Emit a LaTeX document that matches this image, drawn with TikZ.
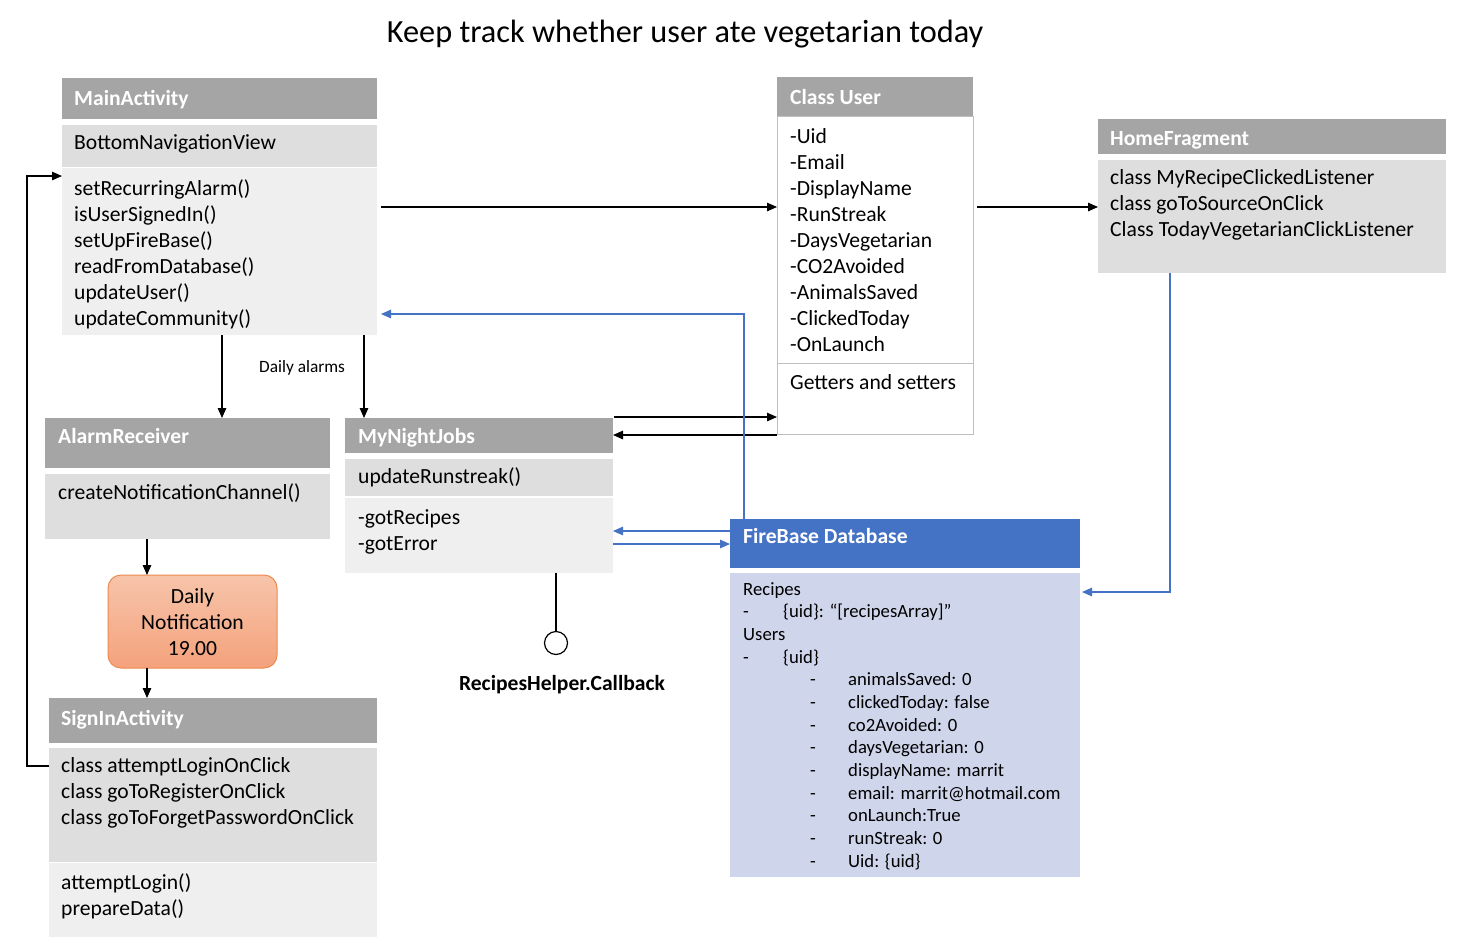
\documentclass[tikz,border=0pt]{standalone}
\usepackage{fontspec}
\setmainfont{Carlito}
\usetikzlibrary{arrows.meta,calc}
\definecolor{hdr}{HTML}{A5A5A5}
\definecolor{lgA}{HTML}{DEDEDE}
\definecolor{lgB}{HTML}{EFEFEF}
\definecolor{ublue}{HTML}{4472C4}
\definecolor{lav}{HTML}{CFD5EA}
\definecolor{ubord}{HTML}{BFBFBF}
\definecolor{ntop}{HTML}{F7C4AA}
\definecolor{nbot}{HTML}{F4A27C}
\definecolor{nbord}{HTML}{EE8A50}
\begin{document}
\begin{tikzpicture}[x=1pt,y=-1pt,
  blk/.style={anchor=north west, inner sep=0pt, outer sep=0pt, draw=none, rectangle},
  txt/.style={anchor=base west, inner sep=0pt, font=\fontsize{21.6}{26}\selectfont},
  htxt/.style={anchor=base west, inner sep=0pt, text=white, font=\fontsize{21.6}{26}\selectfont\bfseries},
  dbtxt/.style={anchor=base west, inner sep=0pt, font=\fontsize{18.7}{22.7}\selectfont},
  conn/.style={line width=1.2pt, -{Triangle[length=10pt,width=8.5pt]}},
  bconn/.style={line width=1.1pt, color=ublue, -{Triangle[length=10pt,width=8.5pt]}},
  bline/.style={line width=1.1pt, color=ublue}
]
\useasboundingbox (0,0) rectangle (1461,943);
\fill[white] (0,0) rectangle (1461,943);

% title
\node[anchor=base, inner sep=0pt, font=\fontsize{32.3}{38}\selectfont] (title) at (685,42) {Keep track whether user ate vegetarian today};

% MainActivity
\node[blk, fill=hdr, minimum width=315pt, minimum height=41pt] (mah) at (62,78) {};
\node[blk, fill=lgA, minimum width=315pt, minimum height=42pt] (mab) at (62,125) {};
\node[blk, fill=lgB, minimum width=315pt, minimum height=167pt] (ma3) at (62,168) {};
\node[htxt] (mah-t) at (74,105) {MainActivity};
\node[txt] (mab-t) at (74,149) {BottomNavigationView};
\foreach \t [count=\i] in {setRecurringAlarm(), isUserSignedIn(), setUpFireBase(), readFromDatabase(), updateUser(), updateCommunity()}
  \node[txt] (ma3-t\i) at (74,{195+26*(\i-1)}) {\t};

% Class User
\node[blk, fill=hdr, minimum width=196pt, minimum height=39pt] (uh) at (777,77) {};
\node[blk, fill=white, draw=ubord, line width=1pt, minimum width=196pt, minimum height=247pt] (ub1) at (777,116) {};
\node[blk, fill=white, draw=ubord, line width=1pt, minimum width=196pt, minimum height=71pt] (ub2) at (777,363) {};
\node[htxt] (uh-t) at (790,104) {Class User};
\foreach \t [count=\i] in {-Uid, -Email, -DisplayName, -RunStreak, -DaysVegetarian, -CO2Avoided, -AnimalsSaved, -ClickedToday, -OnLaunch}
  \node[txt] (ub1-t\i) at (790,{143+26*(\i-1)}) {\t};
\node[txt] (ub2-t) at (790,389) {Getters and setters};

% HomeFragment
\node[blk, fill=hdr, minimum width=348pt, minimum height=35pt] (hfh) at (1098,119) {};
\node[blk, fill=lgA, minimum width=348pt, minimum height=113pt] (hfb) at (1098,160) {};
\node[htxt] (hfh-t) at (1110,145) {HomeFragment};
\foreach \t [count=\i] in {class MyRecipeClickedListener, class goToSourceOnClick, Class TodayVegetarianClickListener}
  \node[txt] (hfb-t\i) at (1110,{184+26*(\i-1)}) {\t};

% AlarmReceiver
\node[blk, fill=hdr, minimum width=285pt, minimum height=50pt] (arh) at (45,418) {};
\node[blk, fill=lgA, minimum width=285pt, minimum height=65pt] (arb) at (45,474) {};
\node[htxt] (arh-t) at (58,443) {AlarmReceiver};
\node[txt] (arb-t) at (58,499) {createNotificationChannel()};

% MyNightJobs
\node[blk, fill=hdr, minimum width=268pt, minimum height=35pt] (njh) at (345,418) {};
\node[blk, fill=lgA, minimum width=268pt, minimum height=37pt] (nj2) at (345,459) {};
\node[blk, fill=lgB, minimum width=268pt, minimum height=75pt] (nj3) at (345,498) {};
\node[htxt] (njh-t) at (358,443) {MyNightJobs};
\node[txt] (nj2-t) at (358,483) {updateRunstreak()};
\node[txt] (nj3-t1) at (358,524) {-gotRecipes};
\node[txt] (nj3-t2) at (358,550) {-gotError};

% Daily notification
\node[blk, rounded corners=13pt, top color=ntop, bottom color=nbot, draw=nbord, line width=1pt, minimum width=169pt, minimum height=93pt] (daily) at (108,575) {};
\node[anchor=base, inner sep=0pt, font=\fontsize{21.6}{26}\selectfont] (daily-t1) at (192.5,603) {Daily};
\node[anchor=base, inner sep=0pt, font=\fontsize{21.6}{26}\selectfont] (daily-t2) at (192.5,629) {Notification};
\node[anchor=base, inner sep=0pt, font=\fontsize{21.6}{26}\selectfont] (daily-t3) at (192.5,655) {19.00};

% SignInActivity
\node[blk, fill=hdr, minimum width=328pt, minimum height=45pt] (sih) at (49,698) {};
\node[blk, fill=lgA, minimum width=328pt, minimum height=114pt] (si2) at (49,748) {};
\node[blk, fill=lgB, minimum width=328pt, minimum height=74pt] (si3) at (49,863) {};
\node[htxt] (sih-t) at (61,725) {SignInActivity};
\foreach \t [count=\i] in {class attemptLoginOnClick, class goToRegisterOnClick, class goToForgetPasswordOnClick}
  \node[txt] (si2-t\i) at (61,{772+26*(\i-1)}) {\t};
\node[txt] (si3-t1) at (61,889) {attemptLogin()};
\node[txt] (si3-t2) at (61,915) {prepareData()};

% FireBase Database
\node[blk, fill=ublue, minimum width=350pt, minimum height=49pt] (fbh) at (730,519) {};
\node[blk, fill=lav, minimum width=350pt, minimum height=304pt] (fbb) at (730,573) {};
\node[htxt] (fbh-t) at (743,543) {FireBase Database};
\node[dbtxt] (fb-r) at (743,595) {Recipes};
\node[dbtxt] (fb-d1) at (743,617.7) {-};
\node[dbtxt] (fb-r1) at (783,617.7) {\{uid\}: “[recipesArray]”};
\node[dbtxt] (fb-u) at (743,640.3) {Users};
\node[dbtxt] (fb-d2) at (743,663) {-};
\node[dbtxt] (fb-u1) at (783,663) {\{uid\}};
\foreach \t [count=\i] in {animalsSaved: 0, clickedToday: false, co2Avoided: 0, daysVegetarian: 0, displayName: marrit, email: marrit@hotmail.com, onLaunch:True, runStreak: 0, Uid: \{uid\}}
{
  \node[dbtxt] (fb-dd\i) at (810,{663+22.67*\i}) {-};
  \node[dbtxt] (fb-f\i) at (848,{663+22.67*\i}) {\t};
}

% RecipesHelper.Callback
\node[circle, draw, line width=1.2pt, minimum size=23pt, inner sep=0pt] (cb) at (556,643) {};
\node[anchor=base, inner sep=0pt, font=\fontsize{21.6}{26}\selectfont\bfseries] (cbl) at (562,690) {RecipesHelper.Callback};

% Daily alarms label
\node[anchor=base west, inner sep=0pt, font=\fontsize{17.3}{20}\selectfont] (dal) at (259,372) {Daily alarms};

% connectors (black)
\draw[conn] ([xshift=4pt,yshift=44.5pt]ma3.east) coordinate (s1) -- (s1 -| ub1.west);
\draw[conn] ([xshift=4pt,yshift=32.5pt]ub1.east) coordinate (s2) -- (s2 -| hfb.west);
\draw[conn] ([xshift=2.5pt]ma3.south) coordinate (s5) -- (s5 |- arh.north);
\draw[conn] ([xshift=144.5pt]ma3.south) coordinate (s6) -- (s6 |- njh.north);
\draw[conn] ([xshift=-40.5pt]arb.south) coordinate (s7) -- (s7 |- daily.north);
\draw[conn] ([xshift=-45.5pt]daily.south) coordinate (s8) -- (s8 |- sih.north);
\draw[conn] ([yshift=39pt]si2.west) -- ++(-22,0) |- ([yshift=75.5pt]ma3.west);
\draw[conn] ([xshift=1pt,yshift=1pt]njh.north east) coordinate (s10) -- (s10 -| ub2.west);
\draw[conn] ([yshift=-36.5pt]ub2.west) coordinate (s11) -- (s11 -| njh.east);
\draw[line width=1.2pt] ([xshift=77pt]nj3.south) -- (cb.north);

% connectors (blue)
\draw[bconn] ([xshift=-161pt]fbh.north) |- ([xshift=4pt,yshift=-62.5pt]ma3.east);
\draw[bconn] ([xshift=-102pt]hfb.south) |- ([xshift=2pt,yshift=133pt]fbb.east);
\draw[bconn] ([yshift=12.5pt]fbh.west) coordinate (s12) -- (s12 -| nj3.east);
\draw[bconn] ([yshift=-8.5pt]nj3.east) coordinate (s13) -- (s13 -| fbh.west);
\end{tikzpicture}
\end{document}
